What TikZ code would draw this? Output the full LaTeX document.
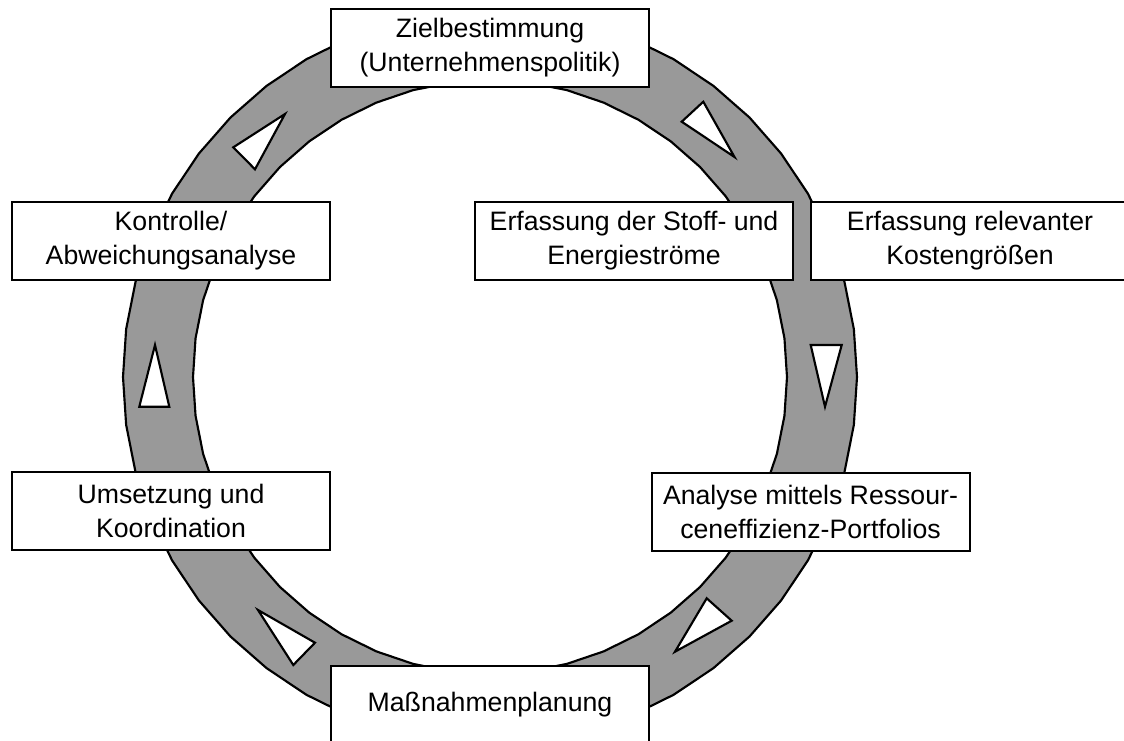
\documentclass[tikz,border=0pt]{standalone}
\usepackage{fontspec}
\setmainfont{Liberation Sans}
\definecolor{ringgray}{RGB}{153,153,153}
\tikzset{
  stage/.style={draw=black, fill=white, line width=1.5pt, rectangle,
    minimum width=238.5pt, minimum height=58.5pt, inner sep=0pt,
    align=center, font=\fontsize{20}{25.5}\selectfont},
  ringline/.style={draw=black, line width=1.6pt, line join=round},
  flowtri/.style={draw=black, fill=white, line width=1.6pt, line join=miter}
}
\begin{document}
\begin{tikzpicture}[x=0.75pt, y=-0.75pt]
  \useasboundingbox (0,0) rectangle (1124,740);
  \clip (0,0) rectangle (1124,740);

  % ring: lightly faceted annulus around the cycle centre
  \coordinate (c) at (490,377);
  \fill[ringgray, even odd rule]
    plot[samples=49, domain=0:360] ({490+367*cos(\x)},{377+367*sin(\x)}) -- cycle
    plot[samples=49, domain=0:360] ({490+297*cos(\x)},{377+297*sin(\x)}) -- cycle;
  \draw[ringline] plot[samples=49, domain=0:360] ({490+367*cos(\x)},{377+367*sin(\x)}) -- cycle;
  \draw[ringline] plot[samples=49, domain=0:360] ({490+297*cos(\x)},{377+297*sin(\x)}) -- cycle;

  % direction markers along the ring (clockwise)
  \draw[flowtri] (681.7,121.7) -- (703.3,101.7) -- (734.5,157) -- cycle;
  \draw[flowtri] (810.7,345) -- (841.7,345) -- (825,406.7) -- cycle;
  \draw[flowtri] (706.7,598.3) -- (731.7,620.7) -- (675,651.7) -- cycle;
  \draw[flowtri] (315,642.7) -- (293.3,665) -- (258,610) -- cycle;
  \draw[flowtri] (139.3,406.7) -- (169.3,406.7) -- (155,345) -- cycle;
  \draw[flowtri] (233.3,147.3) -- (255,169.3) -- (285,114) -- cycle;

  % stages of the cycle
  \node[stage] (ziel) at (490,48) {Zielbestimmung\\(Unternehmenspolitik)};
  \node[stage] (stoff) at (634,240.5) {Erfassung der Stoff- und\\Energieströme};
  \node[stage] (kosten) at (970,240.5) {Erfassung relevanter\\Kostengrößen};
  \node[stage] (analyse) at (810.5,512) {Analyse mittels Ressour-\\ceneffizienz-Portfolios};
  \node[stage] (massnahmen) at (490,705) {Maßnahmenplanung};
  \node[stage] (umsetzung) at (171,511) {Umsetzung und\\Koordination};
  \node[stage] (kontrolle) at (171,240.5) {Kontrolle/\\Abweichungsanalyse};
\end{tikzpicture}
\end{document}
